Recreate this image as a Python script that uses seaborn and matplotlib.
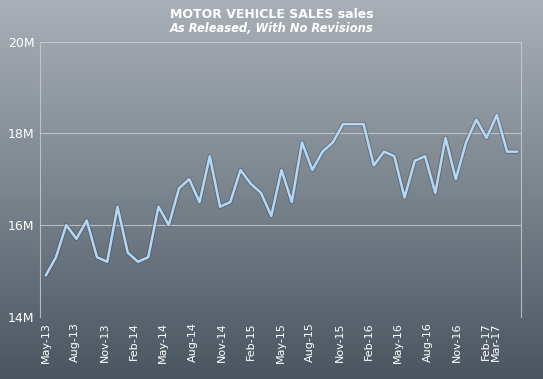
import matplotlib
matplotlib.use("Agg")
import matplotlib.pyplot as plt
import numpy as np
import pandas as pd
import seaborn as sns

# monthly sales, millions (May-13 .. Mar-17)
months = pd.date_range("2013-05-01", "2017-03-01", freq="MS")
sales = [14.9, 15.3, 16.0, 15.7, 16.1, 15.3, 15.2, 16.4, 15.4, 15.2, 15.3, 16.4,
         16.0, 16.8, 17.0, 16.5, 17.5, 16.4, 16.5, 17.2, 16.9, 16.7, 16.2, 17.2,
         16.5, 17.8, 17.2, 17.6, 17.8, 18.2, 18.2, 18.2, 17.3, 17.6, 17.5, 16.6,
         17.4, 17.5, 16.7, 17.9, 17.0, 17.8, 18.3, 17.9, 18.4, 17.6, 17.6]
yticks = [14, 16, 18, 20]
ytick_labels = ["14M", "16M", "18M", "20M"]

df = pd.DataFrame({"idx": np.arange(len(sales)), "sales": sales})
month_labels = [m.strftime("%b-%y") for m in months]

sns.set_style("white")
plt.rcParams["font.family"] = ["DejaVu Sans"]

fig = plt.figure(figsize=(5.43, 3.79), dpi=100)

# gradient background
bg = fig.add_axes([0, 0, 1, 1], zorder=0)
grad = np.linspace(0, 1, 256).reshape(-1, 1)
cmap = matplotlib.colors.LinearSegmentedColormap.from_list(
    "bg", ["#a9afb6", "#7b858e", "#4a5560"])
bg.imshow(grad, aspect="auto", cmap=cmap, extent=[0, 1, 0, 1])
bg.set_axis_off()

ax = fig.add_axes([0.0737, 0.164, 0.8858, 0.7265], zorder=1)
ax.patch.set_alpha(0)

# soft shadow under the line
sns.lineplot(data=df, x="idx", y="sales", ax=ax, color="#2e3a45", lw=3.2,
             alpha=0.35)
sns.lineplot(data=df, x="idx", y="sales", ax=ax, color="#b4d8f4", lw=1.8)

ax.set_xlim(-0.556, 46.36)
ax.set_ylim(14, 20)
ax.set_yticks(yticks)
ax.set_yticklabels(ytick_labels, color="white", fontsize=9)

# category labels in the original sit slightly tighter than the points
tick_scale = 0.955
tick_idx = list(range(0, len(months) - 1, 3)) + [len(months) - 1]
ax.set_xticks([i * tick_scale for i in tick_idx])
ax.set_xticklabels([month_labels[i] for i in tick_idx], rotation=90,
                   color="white", fontsize=8)
ax.tick_params(axis="both", length=0, pad=4)
ax.set_xlabel("")
ax.set_ylabel("")

for y in yticks:
    ax.axhline(y, color="#c9ced3", lw=0.8, alpha=0.8, zorder=0)
for s in ["left", "right"]:
    ax.spines[s].set_color("#c9ced3")
    ax.spines[s].set_linewidth(0.8)
    ax.spines[s].set_alpha(0.8)
ax.spines["top"].set_visible(False)
ax.spines["bottom"].set_visible(False)

fig.text(0.5, 0.963, "MOTOR VEHICLE SALES sales", ha="center", va="center",
         color="white", fontsize=9, fontweight="bold")
fig.text(0.5, 0.925, "As Released, With No Revisions", ha="center",
         va="center", color="white", fontsize=8.3, fontweight="bold",
         style="italic")

fig.savefig("out.png", dpi=100)
